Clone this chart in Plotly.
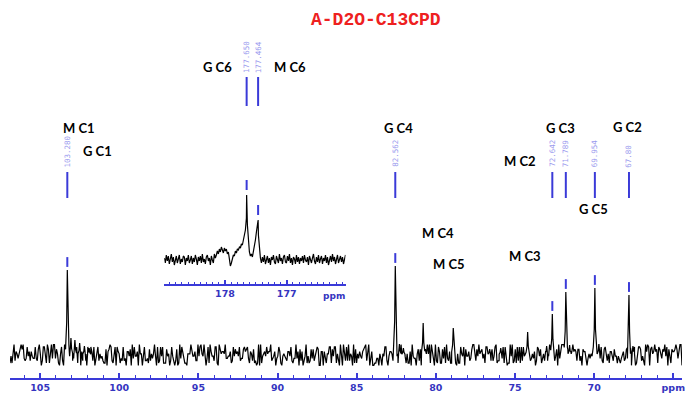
import numpy as np
import plotly.graph_objects as go

title_text = "A-D2O-C13CPD"

# ---------------- main spectrum data (ppm, intensity in a.u.) ----------------
main_ppm_start = 106.9
main_ppm_stop = 64.45
# hand-entered baseline fluctuation digits (0-9), one per sample
noise_digits = ("14159265358979323846264338327950288419716939937510"
                "58209749445923078164062862089986280348253421170679"
                "82148086513282306647093844609550582231725359408128"
                "48111745028410270193852110555964462294895493038196"
                "44288109756659334461284756482337867831652712019091"
                "45648566923460348610454326648213393607260249141273"
                "72458700660631558817488152092096282925409171536436"
                "78925903600113305305488204665213841469519415116094"
                "33057270365759591953092186117381932611793105118548"
                "07446237996274956735188575272489122793818301194912"
                "71828182845904523536028747135266249775724709369995"
                "95749669676277240766303535475945713821785251664274"
                "414213562373095048801688724209698078569671875376948073176679737990")

peak_ppm = [103.28, 82.562, 80.8, 78.9, 74.2, 72.642, 71.789, 69.954, 67.80]
peak_height = [85, 89, 32, 27, 23, 41, 63, 67, 60]

tail_ppm = [103.05, 102.8, 102.5, 102.2, 101.9, 82.3, 82.05, 73.0, 71.55, 69.7, 67.55, 75.9, 76.6]
tail_height = [17, 15, 12, 9, 7, 11, 7, 9, 10, 11, 9, 7, 6]

label_ppm = [103.28, 82.562, 72.642, 71.789, 69.954, 67.80]
label_text = ["103.280", "82.562", "72.642", "71.789", "69.954", "67.80"]

main_tick_vals = [105, 100, 95, 90, 85, 80, 75, 70, 65]
main_tick_text = ["105", "100", "95", "90", "85", "80", "75", "70", "ppm"]

# ---------------- inset (carbonyl region) ----------------
inset_ppm_start = 178.984
inset_ppm_stop = 176.048
inset_offsets = [2, -3, 5, -1, 4, -4, 1, 6, -2, 3, -5, 0, 4, -3, 2, 5, -4, 1, -2, 4,
                 3, -5, 2, -1, 5, -3, 0, 4, -4, 2, -2, 5, 1, -5, 3, -1, 4, -3, 6, -2,
                 1, -4, 3, 5, -1, 2, -5, 4, 0, -3, 6, 2,
                 5, 9, 6, 11, 8, 13, 10, 7, 12, 9, 11, 6, 8,
                 -2, -6, -3,
                 2, 5, 4, 9, 7, 11, 10, 13, 12, 16, 15,
                 20, 24, 30, 42,
                 35, 18, 8,
                 4, 6, 3, 8,
                 12, 20, 28, 35,
                 25, 10, 2, -3,
                 3, -2, 5, -4, 1, 4, -3, 2, -5, 3, 0, 5, -2, -4, 4, 1, -3, 6, -1, 2,
                 -4, 3, 5, -2, -3, 4, -1, 6, -3, 2, -5, 3, 1, -4, 5, -2, 3, -4, 2, -1,
                 4, -3, 5, 0, -2, 3, -5, 4, 1, -3, 2, 6, -1, -4, 3, -2, 5, -3, 1, 4,
                 -4, 2, -1, 5, -3, 3, -5, 1, 4, -2, 6, -1, 3, -4, 2, 5, -3, 0, 4, -2,
                 3, -4, 1, 5]
inset_peak_ppm = [177.650, 177.464]
inset_peak_height = [65, 40]
inset_label_text = ["177.650", "177.464"]
inset_tick_vals = [178, 177]
inset_tick_text = ["178", "177"]

# assignment labels: text and pixel position (layout only)
assign_labels = ["M C1", "G C1", "G C6", "M C6", "G C4", "G C3", "G C2",
                 "M C2", "G C5", "M C4", "M C5", "M C3"]
assign_pos = [(79, 128), (98, 151), (218, 67), (291, 67), (400, 128), (563, 128),
              (630, 127), (522, 161), (596, 209), (440, 233), (451, 264), (527, 256)]

# ---------------- build traces ----------------
W, H = 685, 394
ML, MB = 10, 16
PW, PH = W - ML, H - MB
BLUE = "#3a3ad8"


def px_x(px):
    return (px - ML) / PW


def px_y(py):
    return (PH - py) / PH


digits = np.array([int(c) for c in noise_digits], dtype=float)
grid = np.linspace(main_ppm_start, main_ppm_stop, len(digits))
noise = (digits - 4.5) * 2.3

all_peaks = list(zip(peak_ppm, peak_height)) + list(zip(tail_ppm, tail_height))
keep = np.ones(len(grid), dtype=bool)
for p, h in all_peaks:
    keep &= np.abs(grid - p) > (0.09 if h > 20 else 0.05)
xs = list(grid[keep])
ys = list(noise[keep])
shape_off = [0.1, 0.04, 0.0, -0.04, -0.1]
shape_frac = [0.12, 0.38, 1.0, 0.38, 0.12]
for p, h in all_peaks:
    for o, f in zip(shape_off, shape_frac):
        xs.append(p + o)
        ys.append(h * f)
order = np.argsort(xs)[::-1]
main_x = np.array(xs)[order]
main_y = np.array(ys)[order]

igrid = np.linspace(inset_ppm_start, inset_ppm_stop, len(inset_offsets))
ix = list(igrid) + inset_peak_ppm
iy = list(inset_offsets) + inset_peak_height
iorder = np.argsort(ix)[::-1]
inset_x = np.array(ix)[iorder]
inset_y = np.array(iy)[iorder]

fig = go.Figure()
fig.add_trace(go.Scatter(x=main_x, y=main_y, mode="lines",
                         line=dict(color="black", width=1.2), hoverinfo="skip",
                         xaxis="x", yaxis="y"))
fig.add_trace(go.Scatter(x=inset_x, y=inset_y, mode="lines",
                         line=dict(color="black", width=1.2), hoverinfo="skip",
                         xaxis="x2", yaxis="y2"))

# peak pick marks
lab_h = [peak_height[peak_ppm.index(p)] for p in label_ppm]
fig.add_trace(go.Scatter(x=label_ppm, y=[h + 8 for h in lab_h], mode="markers",
                         marker=dict(symbol="line-ns", size=7, line=dict(color=BLUE, width=2)),
                         hoverinfo="skip", xaxis="x", yaxis="y"))
fig.add_trace(go.Scatter(x=inset_peak_ppm, y=[h + 10 for h in inset_peak_height], mode="markers",
                         marker=dict(symbol="line-ns", size=7, line=dict(color=BLUE, width=2)),
                         hoverinfo="skip", xaxis="x2", yaxis="y2"))

shapes = []
annotations = []
for p, t in zip(label_ppm, label_text):
    shapes.append(dict(type="line", xref="x", yref="paper", x0=p, x1=p,
                       y0=px_y(198), y1=px_y(172), line=dict(color=BLUE, width=2)))
    annotations.append(dict(x=p, xref="x", y=px_y(167 - len(t) * 2.25), yref="paper",
                            text=t, textangle=-90, showarrow=False,
                            font=dict(family="DejaVu Sans Mono", size=7.5, color="#9a9aee"),
                            xanchor="center", yanchor="middle"))
for p, t in zip(inset_peak_ppm, inset_label_text):
    shapes.append(dict(type="line", xref="x2", yref="paper", x0=p, x1=p,
                       y0=px_y(106), y1=px_y(77), line=dict(color=BLUE, width=2)))
    annotations.append(dict(x=p, xref="x2", y=px_y(73 - len(t) * 2.25), yref="paper",
                            text=t, textangle=-90, showarrow=False,
                            font=dict(family="DejaVu Sans Mono", size=7.5, color="#9a9aee"),
                            xanchor="center", yanchor="middle"))

for t, (px, py) in zip(assign_labels, assign_pos):
    annotations.append(dict(x=px_x(px), y=px_y(py), xref="paper", yref="paper",
                            text=t, showarrow=False, xanchor="center", yanchor="middle",
                            font=dict(family="Lato", size=13, color="black", weight="bold")))

annotations.append(dict(x=px_x(378), y=px_y(20), xref="paper", yref="paper",
                        text=title_text, showarrow=False, xanchor="center", yanchor="middle",
                        font=dict(family="Liberation Mono", size=18, color="#ee2020", weight="bold")))
annotations.append(dict(x=176.24, xref="x2", y=px_y(296), yref="paper", text="ppm",
                        showarrow=False, xanchor="center", yanchor="middle",
                        font=dict(family="DejaVu Sans", size=9, color="#3535c0", weight="bold")))

tickfont = dict(family="DejaVu Sans", size=9.5, color="#3535c0", weight="bold")
fig.update_layout(
    width=W, height=H,
    margin=dict(l=ML, r=0, t=0, b=MB),
    paper_bgcolor="white", plot_bgcolor="white",
    showlegend=False,
    shapes=shapes, annotations=annotations,
    xaxis=dict(range=[main_ppm_start, main_ppm_stop], domain=[0, 1], anchor="y",
               showline=True, linecolor=BLUE, linewidth=2, mirror=False,
               ticks="inside", tickvals=main_tick_vals, ticktext=main_tick_text,
               ticklen=5, tickwidth=1.5, tickcolor=BLUE, tickfont=tickfont,
               ticklabeloverflow="allow",
               minor=dict(dtick=1, ticks="inside", ticklen=3, tickcolor=BLUE, tickwidth=1),
               showgrid=False, zeroline=False),
    yaxis=dict(range=[-23, 355], domain=[0, 1], visible=False, showgrid=False, zeroline=False),
    xaxis2=dict(range=[inset_ppm_start, inset_ppm_stop],
                domain=[px_x(165), px_x(347)], anchor="y2",
                showline=True, linecolor=BLUE, linewidth=1.5,
                ticks="inside", tickvals=inset_tick_vals, ticktext=inset_tick_text,
                ticklen=4, tickwidth=1.5, tickcolor=BLUE, tickfont=tickfont,
                minor=dict(dtick=0.1, ticks="inside", ticklen=2, tickcolor=BLUE, tickwidth=1),
                showgrid=False, zeroline=False),
    yaxis2=dict(range=[-24, 80], domain=[px_y(284), px_y(180)], anchor="x2",
                visible=False, showgrid=False, zeroline=False),
)

fig.write_html("out.html", config={"displayModeBar": False},
               post_script="document.body.style.margin='0';document.body.style.overflow='hidden';")
